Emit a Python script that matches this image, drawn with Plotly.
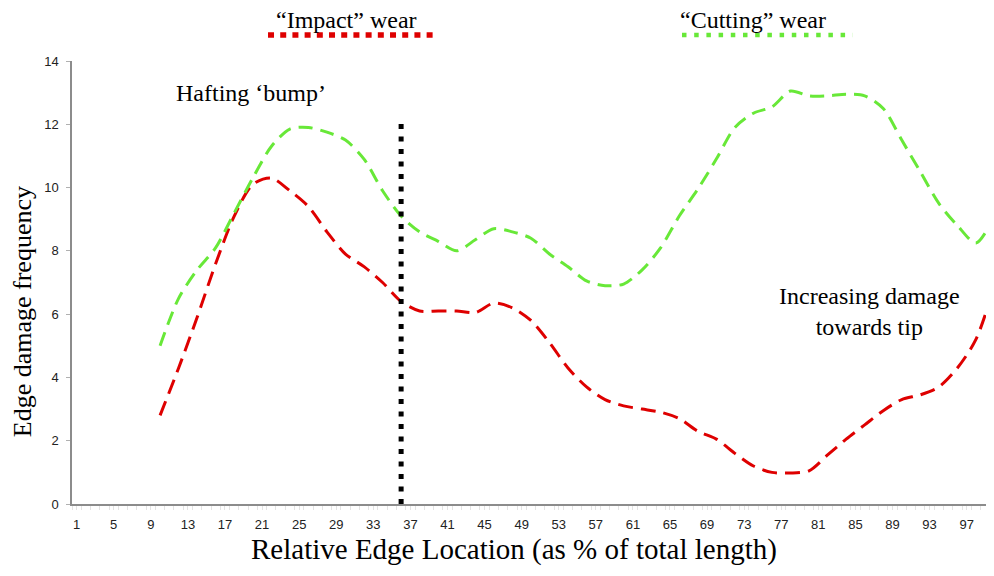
import plotly.graph_objects as go

# edge location (% of total length) and smoothed damage counts
location = [10, 12, 14, 16, 18, 20, 22, 24, 26, 28, 30, 32, 34, 36, 38, 40, 42, 44, 46, 48,
            50, 52, 54, 56, 58, 60, 62, 64, 66, 68, 70, 72, 74, 76, 78, 80, 82, 84, 86, 88,
            90, 92, 94, 96, 98, 100]

impact = [2.8, 4.3, 5.9, 7.6, 9.1, 10.1, 10.3, 9.9, 9.4, 8.6, 7.9, 7.5, 7.0, 6.4, 6.1, 6.1,
          6.1, 6.05, 6.35, 6.2, 5.8, 5.1, 4.3, 3.7, 3.3, 3.1, 3.0, 2.9, 2.7, 2.3, 2.05, 1.6,
          1.2, 1.0, 0.98, 1.05, 1.55, 2.05, 2.5, 2.95, 3.3, 3.45, 3.7, 4.3, 5.2, 6.9]

cutting = [5.0, 6.5, 7.4, 8.1, 9.2, 10.3, 11.3, 11.85, 11.9, 11.75, 11.5, 10.9, 9.9, 9.1,
           8.6, 8.3, 8.0, 8.35, 8.7, 8.6, 8.4, 7.9, 7.5, 7.05, 6.9, 6.95, 7.4, 8.1, 9.1, 9.95,
           10.9, 11.9, 12.35, 12.55, 13.05, 12.9, 12.9, 12.95, 12.9, 12.5, 11.5, 10.5, 9.5,
           8.8, 8.25, 9.1]

tick_vals = list(range(1, 100, 4))
hafting_x = 36
hafting_top = 12.15

red = 'rgb(222,0,0)'
green = 'rgb(104,232,56)'
serif = 'Liberation Serif, Times New Roman, serif'
sans = 'Liberation Sans, Arial, sans-serif'

fig = go.Figure()
fig.add_trace(go.Scatter(x=location, y=impact, mode='lines',
                         line=dict(color=red, width=3, dash='15px,8px',
                                   shape='spline', smoothing=0.8)))
fig.add_trace(go.Scatter(x=location, y=cutting, mode='lines',
                         line=dict(color=green, width=3, dash='14px,8px',
                                   shape='spline', smoothing=0.8)))

# hafting boundary
fig.add_shape(type='line', x0=hafting_x, x1=hafting_x, y0=0, y1=hafting_top,
              line=dict(color='black', width=5, dash='5px,7.5px'))

# header "legend" marks
fig.add_shape(type='line', xref='paper', yref='paper', x0=0.2126, x1=0.397,
              y0=1.0587, y1=1.0587, line=dict(color=red, width=5.5, dash='6px,6.2px'))
fig.add_shape(type='line', xref='paper', yref='paper', x0=0.6616, x1=0.847,
              y0=1.0587, y1=1.0587, line=dict(color=green, width=4.5, dash='4.5px,7.7px'))

ann = dict(showarrow=False, xanchor='center', yanchor='middle')
fig.add_annotation(text='\u201cImpact\u201d wear', xref='paper', yref='paper', x=0.2977, y=1.092,
                   font=dict(family=serif, size=24, color='black'), **ann)
fig.add_annotation(text='\u201cCutting\u201d wear', xref='paper', yref='paper', x=0.7386, y=1.092,
                   font=dict(family=serif, size=24, color='black'), **ann)
fig.add_annotation(text='Hafting \u2018bump\u2019', x=19.76, y=13.0,
                   font=dict(family=serif, size=24, color='black'), **ann)
fig.add_annotation(text='Increasing damage<br>towards tip', x=86.5, y=6.07,
                   font=dict(family=serif, size=24, color='black'), **ann)

fig.add_annotation(text='Relative Edge Location (as % of total length)', xref='paper', yref='paper',
                   x=0.479, y=-0.1038, font=dict(family=serif, size=29, color='black'), **ann)
fig.add_annotation(text='Edge damage frequency', xref='paper', yref='paper', textangle=-90,
                   x=-0.0542, y=0.433, font=dict(family=serif, size=26, color='black'), **ann)

fig.update_layout(
    width=986, height=568,
    margin=dict(l=64, r=0, t=53, b=72),
    paper_bgcolor='white', plot_bgcolor='white',
    showlegend=False,
    xaxis=dict(range=[0.5, 99.95], tickvals=tick_vals, ticktext=[str(v) for v in tick_vals],
               showgrid=False, zeroline=False, showline=True, linecolor='#8c8c8c', linewidth=1.5,
               ticks='outside', ticklen=4, tickcolor='#e4e4e4', ticklabelstandoff=4,
               minor=dict(dtick=1, tick0=0.5, ticks='outside', ticklen=4, tickcolor='#e4e4e4'),
               tickfont=dict(family=sans, size=13, color='#222222')),
    yaxis=dict(range=[0, 14], dtick=2, showgrid=False, zeroline=False, showline=True,
               linecolor='#8c8c8c', linewidth=1.5, ticks='outside', ticklen=4, tickcolor='#b0b0b0',
               ticklabelstandoff=5,
               tickfont=dict(family=sans, size=13, color='#222222')),
)

fig.write_html("out.html")
